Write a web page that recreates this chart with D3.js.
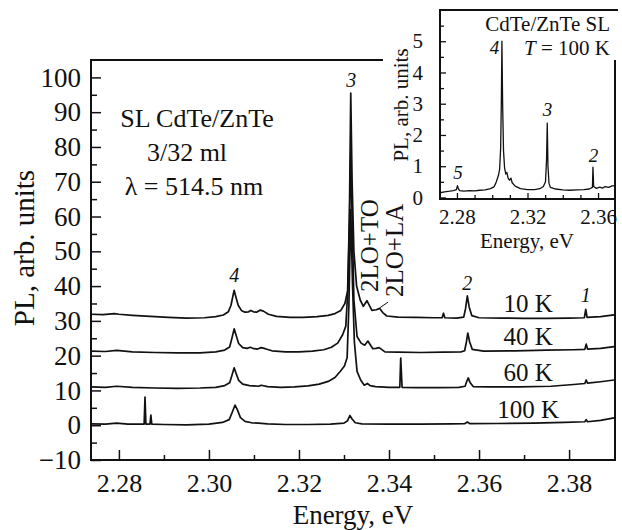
<!DOCTYPE html>
<html>
<head>
<meta charset="utf-8">
<script src="https://cdn.jsdelivr.net/npm/d3@7"></script>
<style>
  body { margin: 0; background: #fff; }
  svg { display: block; font-family: "Liberation Serif", "Times New Roman", serif; }
</style>
</head>
<body>
<div id="chart"></div>
<script>
// PL spectra, [energy eV, PL arb. units], curves shifted vertically as in the figure
var spec10K = [
  [2.2738, 31.9], [2.2765, 31.8], [2.2790, 32.1], [2.2800, 31.9], [2.2830, 31.6], [2.2870, 31.3],
  [2.2910, 31.0], [2.2950, 30.8], [2.2990, 30.9], [2.3015, 31.2], [2.3032, 31.7], [2.3043, 32.6],
  [2.3049, 34.5], [2.3053, 37.0], [2.3056, 38.8], [2.3060, 36.8], [2.3065, 34.5], [2.3072, 33.0],
  [2.3080, 32.5], [2.3088, 32.6], [2.3093, 33.0], [2.3099, 32.6], [2.3106, 32.5], [2.3114, 33.1],
  [2.3121, 32.8], [2.3132, 31.9], [2.3150, 31.3], [2.3180, 31.0], [2.3210, 31.0], [2.3240, 31.2],
  [2.3265, 31.6], [2.3280, 32.1], [2.3293, 33.0], [2.3302, 35.0], [2.3308, 38.5], [2.3312, 60.0],
  [2.3315, 95.5], [2.3318, 70.0], [2.3322, 50.0], [2.3328, 40.0], [2.3336, 36.0], [2.3343, 34.2],
  [2.3351, 35.8], [2.3356, 34.5], [2.3362, 33.0], [2.3372, 33.2], [2.3379, 33.6], [2.3386, 32.4],
  [2.3395, 31.4], [2.3420, 31.1], [2.3460, 31.0], [2.3500, 30.9], [2.3518, 30.9], [2.3521, 32.2],
  [2.3524, 30.9], [2.3550, 30.8], [2.3566, 31.1], [2.3570, 33.5], [2.3574, 37.2], [2.3578, 34.0],
  [2.3584, 31.5], [2.3600, 30.9], [2.3650, 30.8], [2.3700, 30.7], [2.3750, 30.7], [2.3800, 30.8],
  [2.3834, 30.9], [2.3837, 33.3], [2.3840, 31.0], [2.3870, 31.2], [2.3900, 31.7]
];
var spec40K = [
  [2.2738, 21.3], [2.2770, 21.2], [2.2795, 21.5], [2.2830, 21.1], [2.2880, 20.9], [2.2930, 20.8],
  [2.2980, 20.8], [2.3015, 21.1], [2.3035, 21.6], [2.3046, 22.5], [2.3051, 25.0], [2.3056, 27.7],
  [2.3060, 26.0], [2.3066, 23.5], [2.3075, 22.3], [2.3085, 22.1], [2.3092, 22.4], [2.3100, 22.0],
  [2.3108, 21.9], [2.3116, 22.3], [2.3125, 22.0], [2.3140, 21.4], [2.3170, 21.1], [2.3200, 21.1],
  [2.3230, 21.3], [2.3255, 21.7], [2.3272, 22.4], [2.3286, 23.6], [2.3297, 26.0], [2.3304, 28.5],
  [2.3309, 40.0], [2.3312, 58.0], [2.3315, 78.0], [2.3318, 60.0], [2.3322, 36.0], [2.3329, 25.5],
  [2.3338, 23.6], [2.3346, 23.0], [2.3353, 24.2], [2.3364, 22.0], [2.3371, 22.1], [2.3378, 22.3],
  [2.3391, 21.1], [2.3420, 21.0], [2.3470, 20.9], [2.3520, 21.0], [2.3560, 21.1], [2.3568, 21.4],
  [2.3572, 24.0], [2.3575, 26.5], [2.3579, 24.0], [2.3585, 21.8], [2.3610, 21.3], [2.3680, 21.4],
  [2.3750, 21.6], [2.3810, 21.7], [2.3835, 21.8], [2.3838, 23.3], [2.3841, 21.9], [2.3870, 22.1],
  [2.3900, 22.6]
];
var spec60K = [
  [2.2738, 11.0], [2.2770, 10.9], [2.2795, 11.2], [2.2830, 10.9], [2.2880, 10.7], [2.2930, 10.6],
  [2.2980, 10.7], [2.3015, 10.9], [2.3035, 11.4], [2.3046, 12.2], [2.3051, 14.3], [2.3056, 16.5],
  [2.3060, 15.0], [2.3066, 12.9], [2.3075, 11.8], [2.3090, 11.4], [2.3110, 11.2], [2.3116, 11.5],
  [2.3130, 11.1], [2.3160, 10.9], [2.3190, 11.0], [2.3220, 11.3], [2.3245, 11.8], [2.3265, 12.6],
  [2.3280, 13.7], [2.3292, 15.5], [2.3301, 17.0], [2.3307, 19.5], [2.3311, 35.0], [2.3315, 62.0],
  [2.3319, 40.0], [2.3323, 24.0], [2.3329, 15.5], [2.3337, 13.0], [2.3345, 11.5], [2.3352, 12.0],
  [2.3358, 11.4], [2.3370, 11.1], [2.3400, 10.9], [2.3424, 10.9], [2.3426, 19.3], [2.3429, 10.9],
  [2.3460, 10.8], [2.3510, 10.8], [2.3555, 10.9], [2.3569, 11.2], [2.3573, 12.7], [2.3576, 13.6],
  [2.3580, 12.3], [2.3587, 11.1], [2.3620, 11.0], [2.3690, 11.0], [2.3760, 11.2], [2.3810, 11.7],
  [2.3835, 12.0], [2.3838, 13.0], [2.3841, 12.1], [2.3870, 12.5], [2.3900, 13.0]
];
var spec100K = [
  [2.2738, 0.4], [2.2770, 0.3], [2.2795, 0.6], [2.2820, 0.3], [2.2850, 0.3], [2.2856, 0.3],
  [2.2858, 8.1], [2.2860, 0.3], [2.2869, 0.3], [2.2871, 2.9], [2.2873, 0.3], [2.2900, 0.2],
  [2.2950, 0.1], [2.3000, 0.3], [2.3030, 0.8], [2.3045, 1.6], [2.3052, 3.8], [2.3058, 5.8],
  [2.3063, 4.5], [2.3070, 2.2], [2.3080, 1.1], [2.3095, 0.7], [2.3110, 0.6], [2.3130, 0.4],
  [2.3170, 0.2], [2.3220, 0.2], [2.3270, 0.3], [2.3300, 0.6], [2.3308, 1.3], [2.3313, 2.8],
  [2.3318, 1.8], [2.3325, 0.7], [2.3340, 0.4], [2.3400, 0.3], [2.3470, 0.3], [2.3540, 0.4],
  [2.3568, 0.45], [2.3574, 0.9], [2.3580, 0.45], [2.3640, 0.5], [2.3720, 0.6], [2.3790, 0.8],
  [2.3835, 1.0], [2.3838, 1.6], [2.3841, 1.0], [2.3870, 1.4], [2.3900, 2.1]
];
// inset: 100 K spectrum, unshifted
var insetSpec = [
  [2.2704, 0.15], [2.2730, 0.18], [2.2760, 0.20], [2.2780, 0.22], [2.2797, 0.25], [2.2803, 0.38],
  [2.2808, 0.28], [2.2815, 0.22], [2.2840, 0.20], [2.2870, 0.22], [2.2900, 0.21], [2.2930, 0.23],
  [2.2960, 0.24], [2.2990, 0.28], [2.3010, 0.34], [2.3020, 0.45], [2.3028, 0.58], [2.3035, 0.70],
  [2.3042, 0.90], [2.3048, 1.6], [2.3052, 3.2], [2.3055, 5.0], [2.3059, 3.0], [2.3064, 1.5],
  [2.3070, 0.95], [2.3077, 0.75], [2.3083, 0.80], [2.3090, 0.62], [2.3098, 0.55], [2.3106, 0.62],
  [2.3113, 0.47], [2.3130, 0.36], [2.3160, 0.28], [2.3200, 0.25], [2.3240, 0.25], [2.3270, 0.28],
  [2.3290, 0.35], [2.3302, 0.50], [2.3308, 1.2], [2.3312, 2.38], [2.3316, 1.0], [2.3322, 0.45],
  [2.3330, 0.32], [2.3360, 0.27], [2.3400, 0.24], [2.3440, 0.23], [2.3480, 0.24], [2.3520, 0.25],
  [2.3550, 0.27], [2.3568, 0.32], [2.3571, 0.97], [2.3575, 0.35], [2.3590, 0.29], [2.3610, 0.33],
  [2.3625, 0.30], [2.3640, 0.35], [2.3660, 0.32], [2.3680, 0.37], [2.3696, 0.38]
];

var xTicks = [2.28, 2.30, 2.32, 2.34, 2.36, 2.38];
var xMinor = [2.29, 2.31, 2.33, 2.35, 2.37];
var yTicks = [-10, 0, 10, 20, 30, 40, 50, 60, 70, 80, 90, 100];
var yMinor = [-5, 5, 15, 25, 35, 45, 55, 65, 75, 85, 95];
var tempLabels = ['10 K', '40 K', '60 K', '100 K'];
var tempLevels = [32.55, 23.1, 12.7, 2.1];
var peakNames = ['4', '3', '2', '1'];
var peakE = [2.3056, 2.3316, 2.3574, 2.3837];
var peakLabelY = [41.2, 97.3, 38.9, 35.4];

var insetXTicks = [2.28, 2.32, 2.36];
var insetXMinor = [2.29, 2.30, 2.31, 2.33, 2.34, 2.35];
var insetYTicks = [0, 1, 2, 3, 4, 5];
var insetYMinor = [0.5, 1.5, 2.5, 3.5, 4.5, 5.5];
var insetPeakNames = ['5', '4', '3', '2'];
var insetPeakE = [2.2806, 2.3040, 2.3314, 2.3574];
var insetPeakY = [0.6, 4.6, 2.6, 1.15];

var serif = '"Liberation Serif", "Times New Roman", serif';
var width = 622, height = 530;
var mLeft = 91, mRight = 615, mTop = 60, mBottom = 460;

var svg = d3.select('#chart').append('svg')
  .attr('width', width)
  .attr('height', height);

var x = d3.scaleLinear().domain([2.2738, 2.3902]).range([mLeft, mRight]);
var y = d3.scaleLinear().domain([-10, 105]).range([mBottom, mTop]);

// d3 axes put sans-serif on their group, put the serif face back
var styleAxis = function(g, size, lw){
  g.attr('font-family', serif).attr('font-size', size);
  g.select('.domain').remove();
  g.selectAll('line').attr('stroke', '#111').attr('stroke-width', lw);
  g.selectAll('text').attr('fill', '#111').attr('font-family', serif).attr('font-size', size);
}

// frame: top line stops where the inset begins
svg.append('path')
  .attr('d', 'M383,' + mTop + 'H' + mLeft + 'V' + mBottom + 'H' + mRight + 'V' + mTop)
  .attr('fill', 'none')
  .attr('stroke', '#111')
  .attr('stroke-width', 2);

svg.append('g')
  .attr('transform', 'translate(0,' + mBottom + ')')
  .call(d3.axisBottom(x).tickValues(xTicks).tickSize(-10).tickPadding(14).tickFormat(d3.format('.2f')))
  .call(styleAxis, 26, 1.5);
svg.append('g')
  .attr('transform', 'translate(0,' + mBottom + ')')
  .call(d3.axisBottom(x).tickValues(xMinor).tickSize(-5).tickFormat(''))
  .call(styleAxis, 26, 1.5);

svg.append('g')
  .attr('transform', 'translate(' + mLeft + ',0)')
  .call(d3.axisLeft(y).tickValues(yTicks).tickSize(-10).tickPadding(10)
    .tickFormat(function(d){ return d < 0 ? '\u2212' + Math.abs(d) : d; }))
  .call(styleAxis, 27, 1.5);
svg.append('g')
  .attr('transform', 'translate(' + mLeft + ',0)')
  .call(d3.axisLeft(y).tickValues(yMinor).tickSize(-6).tickFormat(''))
  .call(styleAxis, 27, 1.5);

svg.append('text')
  .attr('x', (mLeft + mRight) / 2)
  .attr('y', 524)
  .attr('text-anchor', 'middle')
  .attr('font-size', 27)
  .attr('fill', '#111')
  .text('Energy, eV');

svg.append('text')
  .attr('transform', 'translate(34,248) rotate(-90)')
  .attr('text-anchor', 'middle')
  .attr('font-size', 29)
  .attr('fill', '#111')
  .text('PL, arb. units');

// spectra
var line = d3.line()
  .x(function(d){ return x(d[0]); })
  .y(function(d){ return y(d[1]); });

var spectra = [spec10K, spec40K, spec60K, spec100K];
svg.selectAll('path.spec').data(spectra)
  .enter().append('path')
  .attr('class', 'spec')
  .attr('d', line)
  .attr('fill', 'none')
  .attr('stroke', '#111')
  .attr('stroke-width', 1.7)
  .attr('stroke-linejoin', 'round');

// temperature labels
svg.selectAll('text.temp').data(tempLabels)
  .enter().append('text')
  .attr('class', 'temp')
  .attr('x', x(2.3709))
  .attr('y', function(d, i){ return y(tempLevels[i]); })
  .attr('text-anchor', 'middle')
  .attr('font-size', 25)
  .attr('fill', '#111')
  .text(function(d){ return d; });

// peak numbers
svg.selectAll('text.peak').data(peakNames)
  .enter().append('text')
  .attr('class', 'peak')
  .attr('x', function(d, i){ return x(peakE[i]); })
  .attr('y', function(d, i){ return y(peakLabelY[i]); })
  .attr('text-anchor', 'middle')
  .attr('font-size', 20)
  .attr('font-style', 'italic')
  .attr('fill', '#111')
  .text(function(d){ return d; });

// phonon replica labels
svg.append('text')
  .attr('transform', 'translate(378,292) rotate(-90)')
  .attr('font-size', 25)
  .attr('fill', '#111')
  .text('2LO+TO');
svg.append('text')
  .attr('transform', 'translate(403,297) rotate(-90)')
  .attr('font-size', 25)
  .attr('fill', '#111')
  .text('2LO+LA');
svg.append('line')
  .attr('x1', x(2.3380)).attr('y1', y(33.8))
  .attr('x2', x(2.3398)).attr('y2', y(35.4))
  .attr('stroke', '#111')
  .attr('stroke-width', 1);

// sample description
var desc = svg.append('g').attr('font-size', 26).attr('fill', '#111').attr('text-anchor', 'middle');
desc.append('text').attr('x', 197).attr('y', 127).text('SL CdTe/ZnTe');
desc.append('text').attr('x', 187).attr('y', 161).text('3/32 ml');
desc.append('text').attr('x', 194).attr('y', 195).text('\u03bb = 514.5 nm');

// ---- inset ----
var ix = d3.scaleLinear().domain([2.2704, 2.3696]).range([440, 615]);
var iy = d3.scaleLinear().domain([-0.05, 6]).range([199, 10]);
var inset = svg.append('g').attr('font-size', 21).attr('fill', '#111');

inset.append('path')
  .attr('d', 'M618,10H440V199H615')
  .attr('fill', 'none')
  .attr('stroke', '#111')
  .attr('stroke-width', 2);

inset.append('g')
  .attr('transform', 'translate(0,199)')
  .call(d3.axisBottom(ix).tickValues(insetXTicks).tickSize(-6).tickPadding(10).tickFormat(d3.format('.2f')))
  .call(styleAxis, 21, 1.3);
inset.append('g')
  .attr('transform', 'translate(0,199)')
  .call(d3.axisBottom(ix).tickValues(insetXMinor).tickSize(-4).tickFormat(''))
  .call(styleAxis, 21, 1.3);

inset.append('g')
  .attr('transform', 'translate(440,0)')
  .call(d3.axisLeft(iy).tickValues(insetYTicks).tickSize(-6).tickPadding(17).tickFormat(d3.format('d')))
  .call(styleAxis, 21, 1.3);
inset.append('g')
  .attr('transform', 'translate(440,0)')
  .call(d3.axisLeft(iy).tickValues(insetYMinor).tickSize(-4).tickFormat(''))
  .call(styleAxis, 21, 1.3);

var iline = d3.line()
  .x(function(d){ return ix(d[0]); })
  .y(function(d){ return iy(d[1]); });

inset.append('path')
  .datum(insetSpec)
  .attr('d', iline)
  .attr('fill', 'none')
  .attr('stroke', '#111')
  .attr('stroke-width', 1.3)
  .attr('stroke-linejoin', 'round');

inset.append('text')
  .attr('x', 610).attr('y', 31)
  .attr('text-anchor', 'end')
  .text('CdTe/ZnTe SL');
var tLine = inset.append('text')
  .attr('x', 610).attr('y', 55)
  .attr('text-anchor', 'end');
tLine.append('tspan').attr('font-style', 'italic').text('T');
tLine.append('tspan').text(' = 100 K');

inset.append('text')
  .attr('x', 527).attr('y', 248)
  .attr('text-anchor', 'middle')
  .text('Energy, eV');
inset.append('text')
  .attr('transform', 'translate(408,105) rotate(-90)')
  .attr('text-anchor', 'middle')
  .text('PL, arb. units');

inset.selectAll('text.ipeak').data(insetPeakNames)
  .enter().append('text')
  .attr('class', 'ipeak')
  .attr('x', function(d, i){ return ix(insetPeakE[i]); })
  .attr('y', function(d, i){ return iy(insetPeakY[i]); })
  .attr('text-anchor', function(d, i){ return i === 1 ? 'end' : 'middle'; })
  .attr('font-size', 19)
  .attr('font-style', 'italic')
  .text(function(d){ return d; });
</script>
</body>
</html>
